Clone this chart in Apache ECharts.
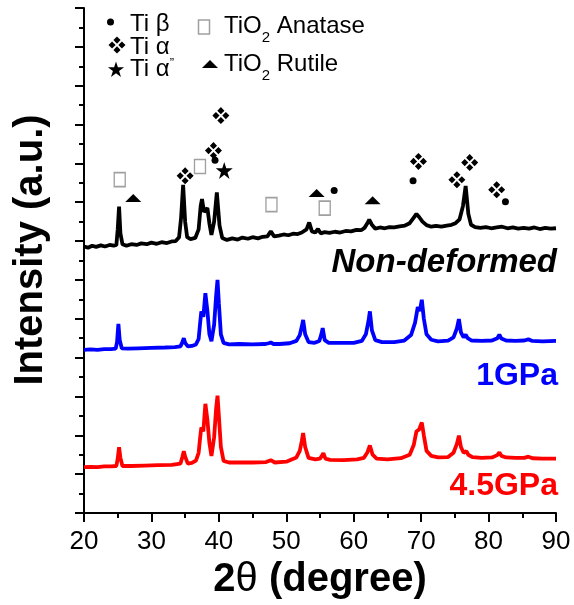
<!DOCTYPE html>
<html><head><meta charset="utf-8">
<script src="https://cdn.jsdelivr.net/npm/echarts@6/dist/echarts.min.js"></script>
<style>html,body{margin:0;padding:0;background:#fff}#c{width:574px;height:605px}</style>
</head><body><div id="c"></div>
<script>
// ---- data (2θ in degrees, intensity in arbitrary offset units) ----
const xMin = 20, xMax = 90, xStep = 10;
const yMin = 0, yMax = 13;

const nonDeformed = [[20,6.86],[20.6,6.83],[21.2,6.88],[21.8,6.85],[22.5,6.89],[23.1,6.86],[23.8,6.9],[24.4,6.88],[24.8,6.9],[25.0,7.3],[25.2,7.89],[25.4,7.2],[25.7,6.92],[26.3,6.88],[27,6.92],[27.8,6.9],[28.5,6.94],[29.3,6.92],[30,6.96],[30.8,6.93],[31.5,6.97],[32.3,6.95],[33,6.99],[33.6,7.0],[34.1,7.1],[34.4,7.6],[34.7,8.45],[35.0,7.5],[35.3,7.1],[35.8,7.05],[36.5,7.08],[37.0,7.3],[37.3,7.9],[37.5,8.08],[37.8,7.75],[38.0,7.72],[38.3,7.85],[38.6,7.45],[38.9,7.16],[39.3,7.5],[39.7,8.25],[40.1,7.4],[40.5,7.08],[41.2,7.03],[42,7.07],[42.8,7.04],[43.5,7.09],[44.3,7.06],[45,7.1],[45.8,7.07],[46.5,7.11],[47.2,7.12],[47.7,7.25],[48.2,7.12],[48.9,7.14],[49.6,7.17],[50.3,7.15],[51,7.19],[51.7,7.18],[52.3,7.22],[53.0,7.3],[53.4,7.48],[53.8,7.25],[54.3,7.22],[54.7,7.31],[55.1,7.2],[55.7,7.23],[56.4,7.21],[57.2,7.24],[58,7.22],[58.8,7.26],[59.6,7.25],[60.4,7.29],[61.1,7.28],[61.6,7.34],[62.0,7.45],[62.3,7.55],[62.7,7.42],[63.2,7.32],[63.9,7.35],[64.6,7.33],[65.3,7.36],[66,7.35],[66.8,7.38],[67.6,7.4],[68.3,7.46],[68.8,7.58],[69.3,7.7],[69.7,7.62],[70.2,7.5],[70.8,7.41],[71.5,7.37],[72.2,7.39],[73,7.37],[73.8,7.4],[74.5,7.42],[75.1,7.46],[75.7,7.56],[76.2,7.9],[76.6,8.42],[77.0,7.7],[77.4,7.42],[78,7.36],[78.8,7.34],[79.6,7.36],[80.4,7.33],[81.2,7.35],[82,7.37],[82.8,7.33],[83.6,7.35],[84.4,7.32],[85.2,7.34],[86,7.32],[86.8,7.35],[87.6,7.31],[88.4,7.34],[89.2,7.32],[90,7.33]];

const gpa1 = [[20,4.2],[21,4.21],[22,4.2],[23,4.22],[24,4.22],[24.7,4.23],[24.9,4.4],[25.1,4.87],[25.3,4.45],[25.6,4.24],[26.5,4.23],[28,4.24],[30,4.25],[32,4.26],[33.5,4.27],[34.3,4.29],[34.6,4.4],[34.8,4.5],[35.0,4.38],[35.4,4.29],[36,4.3],[36.6,4.34],[37.0,4.48],[37.2,4.85],[37.4,5.19],[37.7,5.05],[38.0,5.66],[38.3,5.2],[38.6,4.6],[38.9,4.42],[39.3,4.85],[39.6,5.6],[39.8,6.0],[40.0,5.4],[40.3,4.6],[40.7,4.38],[41.5,4.34],[43,4.35],[45,4.34],[46.8,4.35],[47.4,4.37],[47.7,4.39],[48.1,4.35],[49,4.35],[50.5,4.37],[51.5,4.43],[52.0,4.58],[52.3,4.8],[52.5,4.97],[52.8,4.6],[53.3,4.4],[54.2,4.38],[54.9,4.43],[55.2,4.6],[55.4,4.76],[55.7,4.45],[56.3,4.38],[58,4.38],[60,4.38],[61.2,4.43],[61.8,4.6],[62.2,4.95],[62.4,5.19],[62.7,4.7],[63.2,4.45],[64.2,4.4],[66,4.4],[67.5,4.44],[68.5,4.58],[69.1,4.9],[69.5,5.3],[69.8,5.2],[70.1,5.49],[70.4,5.0],[70.8,4.6],[71.5,4.46],[72.5,4.42],[74,4.44],[74.8,4.52],[75.3,4.75],[75.6,4.99],[75.9,4.65],[76.3,4.52],[76.6,4.59],[76.9,4.5],[77.5,4.44],[79,4.43],[80.5,4.44],[81.3,4.5],[81.6,4.59],[81.9,4.49],[82.6,4.44],[84,4.43],[85.3,4.44],[85.9,4.47],[86.5,4.43],[88,4.42],[90,4.43]];

const gpa45 = [[20,1.18],[21,1.19],[22,1.18],[23,1.2],[24,1.2],[24.8,1.21],[25.0,1.4],[25.2,1.69],[25.4,1.42],[25.7,1.21],[27,1.21],[29,1.22],[31,1.23],[33,1.24],[34.3,1.27],[34.6,1.45],[34.8,1.59],[35.0,1.45],[35.4,1.27],[36,1.29],[36.6,1.35],[37.0,1.55],[37.2,1.9],[37.4,2.2],[37.7,2.1],[38.0,2.81],[38.3,2.4],[38.6,1.8],[38.9,1.47],[39.3,1.95],[39.6,2.7],[39.8,3.02],[40.0,2.5],[40.3,1.7],[40.7,1.34],[41.5,1.3],[43,1.3],[45,1.3],[47,1.31],[47.7,1.36],[48.3,1.3],[50,1.32],[51.5,1.43],[52.0,1.6],[52.3,1.85],[52.5,2.06],[52.8,1.7],[53.3,1.42],[54.3,1.38],[55.0,1.4],[55.3,1.48],[55.5,1.54],[55.8,1.4],[56.5,1.37],[58.5,1.36],[60.5,1.38],[61.5,1.42],[62.0,1.55],[62.4,1.74],[62.8,1.5],[63.4,1.4],[65,1.38],[67,1.41],[68.3,1.5],[68.9,1.75],[69.3,2.1],[69.7,2.15],[70.1,2.33],[70.4,2.0],[70.8,1.6],[71.5,1.47],[72.5,1.43],[74,1.44],[74.8,1.55],[75.3,1.78],[75.6,1.99],[75.9,1.7],[76.3,1.55],[76.7,1.59],[77.0,1.5],[77.6,1.44],[79,1.42],[80.5,1.43],[81.3,1.49],[81.6,1.56],[81.9,1.47],[82.6,1.43],[84,1.42],[85.3,1.42],[85.9,1.45],[86.5,1.41],[88,1.4],[90,1.4]];

// peak markers (position of each marker glyph, in the same units)
const tiBeta   = [[39.43,9.08],[57.1,8.3],[68.8,8.55],[82.5,8.01]];
const tiAlpha  = [[35.0,8.68],[39.2,9.33],[40.3,10.23],[69.6,9.05],[75.3,8.58],[77.2,9.02],[81.2,8.32]];
const tiAlpha2 = [[40.8,8.82]];
const anatase  = [[25.3,8.58],[37.2,8.92],[47.8,7.94],[55.7,7.85]];
const rutile   = [[27.3,8.11],[54.5,8.24],[62.8,8.05]];

const seriesNames = ['Non-deformed','1GPa','4.5GPa'];
const legendNames = ['Ti β','Ti α','Ti α”','TiO₂ Anatase','TiO₂ Rutile'];

// ---- chart ----
const FF = "'Liberation Sans', Arial, sans-serif";
const DIA_PTS = [
  [[10,0],[14.2,4.2],[10,8.4],[5.8,4.2]],
  [[4.2,5.8],[8.4,10],[4.2,14.2],[0,10]],
  [[15.8,5.8],[20,10],[15.8,14.2],[11.6,10]],
  [[10,11.6],[14.2,15.8],[10,20],[5.8,15.8]]
];
const STAR_PTS = [[50,0],[61.2,34.5],[97.6,34.5],[68.2,55.9],[79.4,90.5],[50,69.1],[20.6,90.5],[31.8,55.9],[2.4,34.5],[38.8,34.5]];
function toPath(polys){
  return polys.map(poly => 'M' + poly.map(p => p[0]+','+p[1]).join('L') + 'Z').join(' ');
}
const DIA = toPath(DIA_PTS);
const STAR = toPath([STAR_PTS]);
function place(pts, box, cx, cy, size){
  const k = size/box;
  return pts.map(p => [cx + (p[0]-box/2)*k, cy + (p[1]-box/2)*k]);
}

const chart = echarts.init(document.getElementById('c'), null, {renderer:'canvas'});

function lineSeries(name, data, color, w){
  return {name, type:'line', data, showSymbol:false, symbol:'none', smooth:false,
    lineStyle:{color, width:w}, itemStyle:{color}, animation:false, z:2};
}
function markSeries(name, data, symbol, size, style){
  return {name, type:'scatter', data, symbol, symbolSize:size, itemStyle:Object.assign({opacity:1}, style), animation:false, z:5, silent:true};
}

const legendGraphics = [];
legendGraphics.push({type:'circle', shape:{cx:110.5, cy:22, r:3.5}, style:{fill:'#000'}});
DIA_PTS.forEach(d => legendGraphics.push({type:'polygon', shape:{points:place(d, 20, 117, 45, 17)}, style:{fill:'#000'}}));
legendGraphics.push({type:'polygon', shape:{points:place(STAR_PTS, 100, 116, 70, 17)}, style:{fill:'#000'}});
legendGraphics.push({type:'rect', shape:{x:198.5, y:20, width:11, height:14}, style:{fill:'none', stroke:'#a0a0a0', lineWidth:1.5}});
legendGraphics.push({type:'polygon', shape:{points:[[202,68],[210,60],[218,68]]}, style:{fill:'#000'}});

const option = {
  animation:false,
  backgroundColor:'#fff',
  grid:{left:84, right:18, top:8, bottom:92, containLabel:false},
  xAxis:{
    type:'value', min:xMin, max:xMax, interval:xStep,
    axisLine:{show:true, onZero:false, lineStyle:{color:'#000', width:2}},
    axisTick:{show:true, inside:false, length:9, lineStyle:{color:'#000', width:2}},
    minorTick:{show:true, splitNumber:2, length:5, lineStyle:{color:'#000', width:2}},
    splitLine:{show:false},
    axisLabel:{color:'#000', fontSize:26, fontFamily:FF, margin:16},
    name:'{b|2}{t|θ}{b| (degree)}', nameLocation:'middle', nameGap:45,
    nameTextStyle:{rich:{
      b:{fontSize:40, fontWeight:'bold', fontFamily:FF, color:'#000'},
      t:{fontSize:40, fontWeight:'normal', fontFamily:FF, color:'#000'}
    }}
  },
  yAxis:{
    type:'value', min:yMin, max:yMax, interval:1,
    axisLine:{show:true, onZero:false, lineStyle:{color:'#000', width:2}},
    axisTick:{show:true, inside:false, length:9, lineStyle:{color:'#000', width:2}},
    minorTick:{show:true, splitNumber:2, length:5, lineStyle:{color:'#000', width:2}},
    splitLine:{show:false},
    axisLabel:{show:false}
  },
  series:[
    lineSeries(seriesNames[0], nonDeformed, '#000000', 3.8),
    lineSeries(seriesNames[1], gpa1, '#0000ff', 3.8),
    lineSeries(seriesNames[2], gpa45, '#ff0000', 3.8),
    markSeries(legendNames[0], tiBeta, 'circle', 7, {color:'#000'}),
    markSeries(legendNames[1], tiAlpha, 'path://'+DIA, 17, {color:'#000'}),
    markSeries(legendNames[2], tiAlpha2, 'path://'+STAR, 17, {color:'#000'}),
    markSeries(legendNames[3], anatase, 'rect', [11,14], {color:'rgba(0,0,0,0)', borderColor:'#a0a0a0', borderWidth:1.5}),
    markSeries(legendNames[4], rutile, 'triangle', [16,8], {color:'#000'})
  ],
  graphic:[
    {type:'text', x:31, y:250, rotation:Math.PI/2, style:{text:'Intensity (a.u.)', font:'bold 40px '+FF, fill:'#000', align:'center', verticalAlign:'middle'}},
    {type:'text', x:557, y:263, style:{text:seriesNames[0], font:'italic bold 33px '+FF, fill:'#000', align:'right', verticalAlign:'middle'}},
    {type:'text', x:558, y:376, style:{text:seriesNames[1], font:'bold 32px '+FF, fill:'#0000ff', align:'right', verticalAlign:'middle'}},
    {type:'text', x:558, y:486, style:{text:seriesNames[2], font:'bold 32px '+FF, fill:'#ff0000', align:'right', verticalAlign:'middle'}},
    ...legendGraphics,
    {type:'text', x:130, y:12, style:{text:'{a|Ti β}', rich:{a:{fontSize:24, fontFamily:FF, fill:'#000'}}}},
    {type:'text', x:130, y:35, style:{text:'{a|Ti α}', rich:{a:{fontSize:24, fontFamily:FF, fill:'#000'}}}},
    {type:'text', x:130, y:57, style:{text:'{a|Ti α}{s|”}', rich:{a:{fontSize:24, fontFamily:FF, fill:'#000', verticalAlign:'top'}, s:{fontSize:13, fontFamily:FF, fill:'#000', verticalAlign:'top'}}}},
    {type:'text', x:224, y:14, style:{text:'{a|TiO}{s|2}{a| Anatase}', rich:{a:{fontSize:24, fontFamily:FF, fill:'#000', verticalAlign:'top'}, s:{fontSize:15, fontFamily:FF, fill:'#000', verticalAlign:'top', padding:[16,0,0,0]}}}},
    {type:'text', x:224, y:52, style:{text:'{a|TiO}{s|2}{a| Rutile}', rich:{a:{fontSize:24, fontFamily:FF, fill:'#000', verticalAlign:'top'}, s:{fontSize:15, fontFamily:FF, fill:'#000', verticalAlign:'top', padding:[16,0,0,0]}}}}
  ]
};
chart.setOption(option);
</script>
</body></html>
